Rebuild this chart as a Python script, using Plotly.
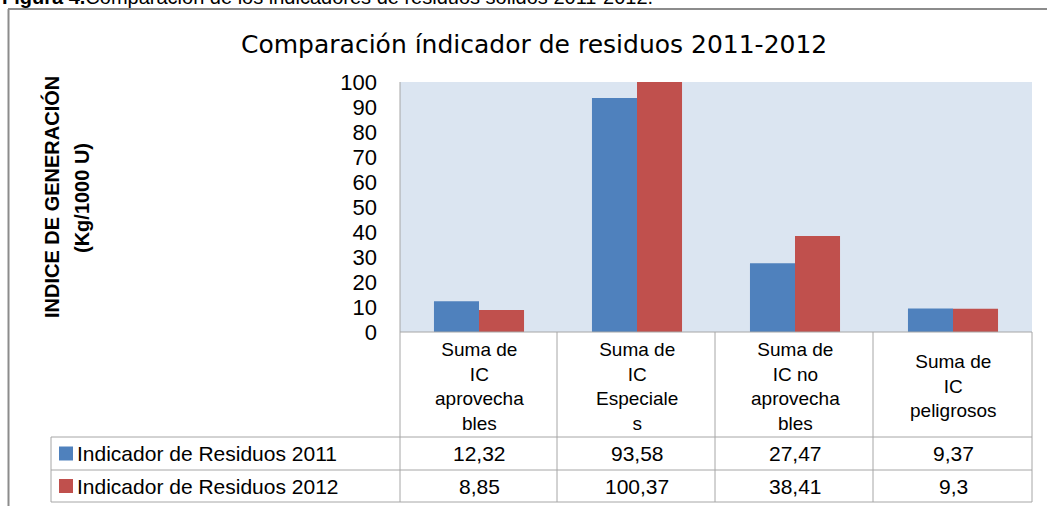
import plotly.graph_objects as go

# ---------------- data ----------------
categories = ["Suma de IC aprovechables", "Suma de IC Especiales",
              "Suma de IC no aprovechables", "Suma de IC peligrosos"]
category_labels = ["Suma de<br>IC<br>aprovecha<br>bles",
                   "Suma de<br>IC<br>Especiale<br>s",
                   "Suma de<br>IC no<br>aprovecha<br>bles",
                   "Suma de<br>IC<br>peligrosos"]
series_names = ["Indicador de Residuos 2011", "Indicador de Residuos 2012"]
values_2011 = [12.32, 93.58, 27.47, 9.37]
values_2012 = [8.85, 100.37, 38.41, 9.3]
y_ticks = [0, 10, 20, 30, 40, 50, 60, 70, 80, 90, 100]

colors = ["#4F81BD", "#C0504D"]
W, H = 1047, 506

def px(x):
    return x / W

def py(y):
    return (H - y) / H

def fmt(v):
    return str(v).replace(".", ",")

fig = go.Figure()
for name, vals, col in zip(series_names, [values_2011, values_2012], colors):
    fig.add_trace(go.Bar(x=categories, y=vals, name=name, marker_color=col,
                         marker_line_width=0))

FONT = "Liberation Sans, Arial, sans-serif"
GRID = "#A6A6A6"

fig.update_layout(
    width=W, height=H,
    margin=dict(l=0, r=0, t=0, b=0, autoexpand=False),
    paper_bgcolor="white",
    plot_bgcolor="#DBE5F1",
    barmode="group", bargap=0.43, bargroupgap=0,
    showlegend=False,
    xaxis=dict(domain=[px(400), px(1032)], showticklabels=False, showline=False,
               showgrid=False, zeroline=False, ticks="", automargin=False),
    yaxis=dict(domain=[py(332), py(82)], range=[0, 100], tickvals=y_ticks,
               showgrid=False, zeroline=False, showline=False, ticks="",
               ticklabelstandoff=22, automargin=False,
               tickfont=dict(family=FONT, size=22, color="black")),
)

shapes = []
def line(x0, y0, x1, y1, color=GRID, w=1):
    shapes.append(dict(type="line", xref="paper", yref="paper",
                       x0=px(x0), y0=py(y0), x1=px(x1), y1=py(y1),
                       line=dict(color=color, width=w)))

# outer frame
line(8.5, 9, 8.5, 506, "#8C8C8C", 2)
line(8, 9, 1047, 9, "#8C8C8C", 2)
# axis / table lines
line(400, 82, 400, 502)
for xs in [557, 715, 873, 1032]:
    line(xs, 332, xs, 502)
line(400, 332, 1032, 332)
for ys in [437, 470, 502]:
    line(51, ys, 1032, ys)
line(51, 437, 51, 502)

# legend squares
for i, col in enumerate(colors):
    yc = 453.5 + i * 32.5
    shapes.append(dict(type="rect", xref="paper", yref="paper",
                       x0=px(59), x1=px(73), y0=py(yc - 7), y1=py(yc + 7),
                       fillcolor=col, line=dict(width=0)))
fig.update_layout(shapes=shapes)

ann = []
# caption (cut off at top, as in the reference)
ann.append(dict(xref="paper", yref="paper", x=0, y=py(-3), xanchor="left",
                yanchor="middle", showarrow=False,
                text="<b>Figura 4.</b>Comparación de los indicadores de residuos sólidos 2011-2012.",
                font=dict(family=FONT, size=20, color="black")))
# title
ann.append(dict(xref="paper", yref="paper", x=px(534), y=py(44), xanchor="center",
                yanchor="middle", showarrow=False,
                text="Comparación índicador de residuos 2011-2012",
                font=dict(family="DejaVu Sans, Verdana, sans-serif", size=25, color="black")))
# y axis title
ann.append(dict(xref="paper", yref="paper", x=px(51), y=py(197), xanchor="center",
                yanchor="middle", showarrow=False, textangle=-90,
                text="<b>INDICE DE GENERACIÓN</b>",
                font=dict(family=FONT, size=20, color="black")))
ann.append(dict(xref="paper", yref="paper", x=px(82), y=py(198), xanchor="center",
                yanchor="middle", showarrow=False, textangle=-90,
                text="<b>(Kg/1000 U)</b>",
                font=dict(family=FONT, size=20, color="black")))
# category headers
for cat, lab in zip(categories, category_labels):
    ann.append(dict(xref="x", yref="paper", x=cat, y=py(386), xanchor="center",
                    yanchor="middle", showarrow=False, text=lab,
                    font=dict(family=FONT, size=19, color="black")))
# table rows
for i, (name, vals) in enumerate(zip(series_names, [values_2011, values_2012])):
    yc = 453.5 + i * 32.5
    ann.append(dict(xref="paper", yref="paper", x=px(75), y=py(yc), xanchor="left",
                    yanchor="middle", showarrow=False, text=name,
                    font=dict(family=FONT, size=21, color="black")))
    for cat, v in zip(categories, vals):
        ann.append(dict(xref="x", yref="paper", x=cat, y=py(yc), xanchor="center",
                        yanchor="middle", showarrow=False, text=fmt(v),
                        font=dict(family=FONT, size=21, color="black")))
fig.update_layout(annotations=ann)

fig.write_html("out.html", config={"displayModeBar": False},
               post_script="document.body.style.margin='0';document.body.style.overflow='hidden';")
